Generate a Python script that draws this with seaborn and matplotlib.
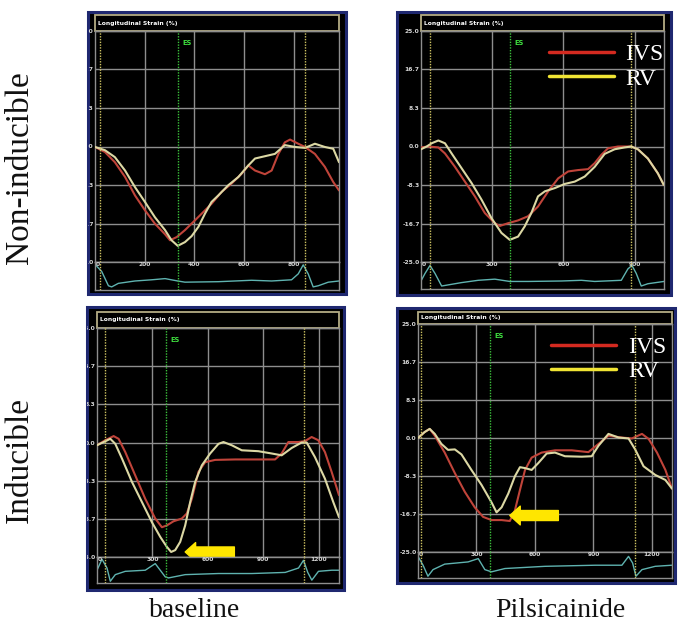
import numpy as np
import pandas as pd
import matplotlib
matplotlib.use("Agg")
import matplotlib.pyplot as plt
from matplotlib.patches import Rectangle
from matplotlib.lines import Line2D
import seaborn as sns

# ---------------- data ----------------
# Non-inducible, baseline
nb_ivs_t = [0, 40, 80, 121, 161, 201, 241, 282, 302, 329, 362, 402, 443, 469, 510, 550, 590, 617,
            644, 684, 711, 738, 764, 785, 818, 845, 885, 925, 959, 982]
nb_ivs = [-0.1, -1.2, -3.4, -6.6, -10.6, -13.8, -16.7, -19.0, -20.3, -19.6, -18.1, -16.0, -13.8, -12.4,
          -9.8, -8.0, -5.9, -4.1, -5.2, -6.0, -5.2, -1.6, 0.9, 1.5, 0.6, -0.1, -1.6, -4.4, -7.7, -9.5]
nb_rv_t = [0, 40, 80, 121, 161, 201, 241, 282, 308, 333, 362, 389, 416, 443, 469, 496, 536, 577, 617,
           644, 684, 724, 764, 805, 845, 872, 885, 925, 959, 982]
nb_rv = [-0.1, -0.8, -2.3, -5.2, -8.8, -12.0, -15.3, -18.1, -20.3, -21.5, -20.7, -19.4, -17.4, -14.5,
         -12.0, -10.6, -8.4, -6.6, -4.1, -2.6, -2.1, -1.6, 0.3, -0.1, -0.3, 0.3, 0.6, -0.1, -0.5, -3.4]
nb_ecg_t = [0, 27, 54, 67, 94, 161, 228, 282, 333, 362, 496, 630, 711, 791, 818, 838, 858, 878, 899, 939, 982]
nb_ecg = [1.0, 0.7, 0.1, 0.05, 0.2, 0.3, 0.35, 0.4, 0.3, 0.25, 0.27, 0.33, 0.3, 0.35, 0.6, 0.98, 0.6,
          0.05, 0.1, 0.25, 0.3]

# Non-inducible, pilsicainide
np_ivs_t = [0, 31, 73, 101, 143, 185, 227, 269, 311, 332, 367, 409, 451, 493, 536, 578, 620, 662, 704,
            732, 760, 788, 830, 886, 914, 956, 998, 1023]
np_ivs = [-0.2, 0.0, -0.2, -1.5, -4.4, -7.6, -10.8, -14.4, -16.6, -17.2, -16.6, -16.0, -15.1, -13.0,
          -9.7, -6.9, -5.4, -5.1, -4.9, -3.6, -1.8, -0.4, 0.0, 0.0, -0.6, -2.6, -5.8, -8.3]
np_rv_t = [0, 24, 45, 73, 101, 129, 171, 213, 255, 297, 339, 374, 409, 437, 465, 493, 522, 564, 606,
           648, 690, 732, 774, 816, 858, 886, 914, 956, 998, 1023]
np_rv = [-0.6, 0.0, 0.7, 1.3, 0.7, -1.5, -4.7, -7.9, -11.5, -15.5, -18.7, -20.2, -19.5, -17.3, -14.4,
         -10.8, -9.7, -9.0, -8.1, -7.6, -6.5, -4.4, -1.6, -0.6, -0.2, 0.0, -0.6, -2.6, -5.8, -8.3]
np_ecg_t = [0, 17, 38, 59, 87, 115, 171, 241, 311, 374, 452, 592, 676, 732, 844, 872, 889, 907, 928, 956, 1024]
np_ecg = [0.27, 0.6, 0.95, 0.6, 0.05, 0.1, 0.2, 0.3, 0.35, 0.25, 0.25, 0.27, 0.3, 0.25, 0.3, 0.8, 0.95,
          0.6, 0.05, 0.15, 0.25]

# Inducible, baseline
ib_ivs_t = [0, 45, 90, 117, 153, 207, 261, 315, 351, 378, 414, 459, 486, 513, 549, 585, 639, 747, 873,
            963, 999, 1035, 1089, 1125, 1161, 1197, 1233, 1269, 1309]
ib_ivs = [-0.6, 0.5, 1.4, 0.8, -2.1, -7.2, -12.3, -16.6, -18.5, -18.1, -17.2, -16.6, -15.5, -12.3,
          -6.4, -4.3, -3.8, -3.7, -3.7, -3.7, -2.4, 0.1, 0.1, 0.3, 1.2, 0.5, -2.1, -6.4, -11.5]
ib_rv_t = [0, 36, 72, 99, 135, 189, 243, 297, 342, 378, 401, 423, 450, 477, 504, 531, 567, 612, 657,
           684, 729, 783, 873, 945, 999, 1053, 1107, 1134, 1179, 1233, 1278, 1309]
ib_rv = [-0.6, 0.1, 0.8, -0.3, -3.5, -8.6, -13.0, -17.4, -20.6, -22.8, -23.9, -23.5, -21.7, -18.1,
         -13.0, -8.6, -5.0, -2.4, -0.3, 0.1, -0.6, -1.7, -1.9, -2.4, -2.8, -1.2, 0.0, 0.0, -3.2, -7.9,
         -13.0, -16.3]
ib_ecg_t = [0, 27, 54, 72, 99, 153, 261, 315, 369, 387, 477, 657, 838, 1018, 1090, 1117, 1140, 1162,
            1198, 1270, 1309]
ib_ecg = [0.5, 1.0, 0.6, 0.0, 0.3, 0.45, 0.5, 0.8, 0.2, 0.15, 0.3, 0.35, 0.35, 0.4, 0.6, 0.95, 0.4,
          0.05, 0.45, 0.5, 0.5]

# Inducible, pilsicainide
ip_ivs_t = [0, 34, 60, 86, 137, 189, 240, 291, 334, 377, 429, 471, 497, 523, 549, 583, 634, 703, 789,
            874, 926, 977, 1046, 1097, 1149, 1183, 1226, 1269, 1303]
ip_ivs = [0.0, 1.3, 2.0, 0.5, -3.2, -7.7, -11.8, -15.2, -17.3, -18.0, -18.0, -18.2, -15.9, -11.4,
          -7.0, -4.3, -3.2, -2.7, -2.7, -3.1, -1.3, 0.5, 0.1, -0.1, 0.9, -0.2, -3.2, -7.0, -11.1]
ip_rv_t = [0, 34, 60, 86, 120, 154, 189, 223, 274, 326, 377, 403, 429, 463, 497, 523, 549, 583, 617,
           660, 703, 754, 840, 891, 926, 977, 1029, 1080, 1114, 1157, 1217, 1269, 1303]
ip_rv = [0.0, 1.3, 2.0, 0.9, -1.3, -2.6, -2.5, -3.6, -7.0, -10.3, -14.1, -16.3, -15.2, -12.2, -8.4,
         -6.4, -6.6, -7.0, -5.5, -3.4, -3.2, -4.0, -4.1, -4.0, -1.7, 0.9, 0.1, -0.1, -2.5, -6.2, -8.1,
         -9.2, -11.1]
ip_ecg_t = [0, 26, 51, 77, 137, 257, 309, 343, 377, 446, 651, 909, 1046, 1080, 1101, 1118, 1149, 1217, 1303]
ip_ecg = [0.9, 0.5, 0.0, 0.3, 0.55, 0.65, 0.8, 0.3, 0.2, 0.35, 0.45, 0.5, 0.5, 0.9, 0.6, 0.0, 0.3,
          0.45, 0.5]

# event markers (ms): end-systole and the two dotted frame markers
es_times = [334, 374, 375, 369]
marker_times = [[20, 845], [38, 886], [41, 1117], [17, 1111]]
x_max = [982, 1024, 1309, 1303]
x_tick_step = [200, 300, 300, 300]

# yellow arrows (head ms, tail ms, strain %) for inducible panels
arrow_ib = [477, 743, -23.9]
arrow_ip = [471, 720, -17.0]

strain_ticks = [25, 16.7, 8.3, 0, -8.3, -16.7, -25]
strain_labels = ["25.0", "16.7", "8.3", "0.0", "-8.3", "-16.7", "-25.0"]

row_labels = ["Non-inducible", "Inducible"]
col_labels = ["baseline", "Pilsicainide"]

# ---------------- styling ----------------
W, H = 685, 624
IVS_COLOR = "#c0443a"
RV_COLOR = "#dcd8a4"
GRID = "#8e8e8e"
TXT = "#d6d6d6"
SERIF = ["Liberation Serif", "DejaVu Serif"]

sns.set_theme(style="dark")
plt.rcParams["font.family"] = ["DejaVu Sans"]


def fbox(x0, y0, x1, y1):
    """pixel box (top-left origin) -> figure fraction rect"""
    return [x0 / W, 1 - y1 / H, (x1 - x0) / W, (y1 - y0) / H]


def draw_panel(fig, frame, axbox, header_top, strip_bottom, ivs_t, ivs, rv_t, rv, ecg_t, ecg,
               es, markers, xmax, step, legend=False, arrow=None):
    frame_rect = Rectangle((frame[0] / W, 1 - frame[3] / H),
                           (frame[2] - frame[0]) / W, (frame[3] - frame[1]) / H,
                           transform=fig.transFigure, facecolor="black",
                           edgecolor="#1f2870", lw=2.2, zorder=-2)
    fig.patches.append(frame_rect)
    x0, y0, x1, y1 = axbox
    fig.patches.append(Rectangle((x0 / W, 1 - y0 / H), (x1 - x0) / W, (y0 - header_top) / H,
                                 transform=fig.transFigure, facecolor="black",
                                 edgecolor="#b4ac84", lw=1.3, zorder=-1))
    fig.text((x0 + 3) / W, 1 - (header_top + y0) / 2 / H, "Longitudinal Strain (%)",
             color="white", fontsize=4.3, fontweight="bold", va="center", ha="left")

    ax = fig.add_axes(fbox(x0, y0, x1, y1))
    ax_ecg = fig.add_axes(fbox(x0, y1, x1, strip_bottom))
    for a in (ax, ax_ecg):
        a.set_facecolor("black")
        for s in a.spines.values():
            s.set_color(GRID)
            s.set_linewidth(1)

    df = pd.DataFrame({
        "time": list(ivs_t) + list(rv_t),
        "strain": list(ivs) + list(rv),
        "segment": ["IVS"] * len(ivs_t) + ["RV"] * len(rv_t),
    })
    sns.lineplot(data=df, x="time", y="strain", hue="segment", estimator=None,
                 palette={"IVS": IVS_COLOR, "RV": RV_COLOR}, lw=1.5, legend=False, ax=ax, zorder=3)

    ax.set_xlim(0, xmax)
    ax.set_ylim(-25, 25)
    ticks_x = np.arange(step, xmax, step)
    ax.set_xticks(ticks_x)
    ax.set_yticks(strain_ticks)
    ax.set_yticklabels(strain_labels)
    ax.tick_params(axis="y", labelsize=4.3, labelcolor=TXT, length=0, pad=1)
    ax.tick_params(axis="x", labelbottom=False, length=0)
    for tk in ax.yaxis.get_major_ticks():
        tk.label1.set_fontweight("bold")
        tk.label1.set_clip_path(frame_rect)
    ax.grid(True, color=GRID, lw=1)
    ax.set_xlabel("")
    ax.set_ylabel("")

    for a in (ax, ax_ecg):
        a.axvline(es, color="#3cc23c", ls=(0, (1, 1)), lw=1, zorder=4)
        for m in markers:
            a.axvline(m, color="#cfc462", ls=(0, (1, 1)), lw=1, zorder=4)
    ax.annotate("ES", xy=(es, 22.3), xytext=(3, 0), textcoords="offset points",
                color="#3fe03f", fontsize=4.8, fontweight="bold", va="center")

    # ECG strip
    sns.lineplot(x=ecg_t, y=ecg, color="#5fb3b0", lw=1, estimator=None, ax=ax_ecg)
    ax_ecg.set_xlim(0, xmax)
    ax_ecg.set_ylim(-0.08, 1.1)
    ax_ecg.set_yticks([])
    ax_ecg.set_xticks(np.arange(0, xmax, 100))
    ax_ecg.set_xticklabels([])
    ax_ecg.tick_params(axis="x", direction="in", length=1.5, width=1, color="#9a9a9a")
    ax_ecg.grid(False)
    ax_ecg.set_xlabel("")
    ax_ecg.set_ylabel("")
    tr = ax_ecg.get_xaxis_transform()
    ax_ecg.text(xmax * 0.004, 0.99, "0", transform=tr, color=TXT, fontsize=4.3,
                fontweight="bold", ha="left", va="top")
    for t in ticks_x:
        ax_ecg.text(t, 0.99, str(t), transform=tr, color=TXT, fontsize=4.3,
                    fontweight="bold", ha="center", va="top")

    if arrow is not None:
        ax.annotate("", xy=(arrow[0], arrow[2]), xytext=(arrow[1], arrow[2]),
                    arrowprops=dict(arrowstyle="simple,head_length=0.75,head_width=1.35,tail_width=0.72",
                                    color="#ffe600", shrinkA=0, shrinkB=0, mutation_scale=10),
                    zorder=6)

    if legend:
        handles = [Line2D([], [], color="#d42a20", lw=2.5), Line2D([], [], color="#f0e434", lw=2.5)]
        ax.legend(handles, ["IVS", "RV"], loc="upper left", bbox_to_anchor=(0.525, 0.945),
                  frameon=False, labelcolor="white", handlelength=2.75, handletextpad=0.5,
                  labelspacing=0.12, borderpad=0, borderaxespad=0,
                  prop={"family": SERIF, "size": 17})
    return ax


fig = plt.figure(figsize=(W / 100, H / 100), dpi=100)
fig.patch.set_facecolor("white")

draw_panel(fig, (88, 12, 346, 294), (95, 31, 339, 262), 15, 290,
           nb_ivs_t, nb_ivs, nb_rv_t, nb_rv, nb_ecg_t, nb_ecg,
           es_times[0], marker_times[0], x_max[0], x_tick_step[0])
draw_panel(fig, (397, 12, 671, 295), (421, 31, 664, 262), 15, 289,
           np_ivs_t, np_ivs, np_rv_t, np_rv, np_ecg_t, np_ecg,
           es_times[1], marker_times[1], x_max[1], x_tick_step[1], legend=True)
draw_panel(fig, (87, 307, 344, 590), (97, 328, 339, 557), 312, 583,
           ib_ivs_t, ib_ivs, ib_rv_t, ib_rv, ib_ecg_t, ib_ecg,
           es_times[2], marker_times[2], x_max[2], x_tick_step[2], arrow=arrow_ib)
draw_panel(fig, (397, 308, 675, 583), (418, 324, 672, 552), 312, 578,
           ip_ivs_t, ip_ivs, ip_rv_t, ip_rv, ip_ecg_t, ip_ecg,
           es_times[3], marker_times[3], x_max[3], x_tick_step[3], legend=True, arrow=arrow_ip)

fig.text(20 / W, 1 - 168 / H, row_labels[0], rotation=90, ha="center", va="center",
         family=SERIF, fontsize=24, color="#111111")
fig.text(20 / W, 1 - 460 / H, row_labels[1], rotation=90, ha="center", va="center",
         family=SERIF, fontsize=24, color="#111111")
fig.text(195 / W, 1 - 617 / H, col_labels[0], ha="center", va="baseline",
         family=SERIF, fontsize=20, color="#111111")
fig.text(560 / W, 1 - 617 / H, col_labels[1], ha="center", va="baseline",
         family=SERIF, fontsize=20, color="#111111")

fig.savefig("out.png", dpi=100, facecolor="white")
